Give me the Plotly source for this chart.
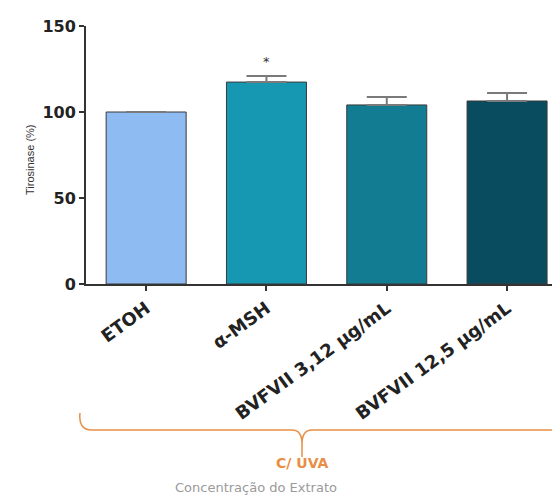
import plotly.graph_objects as go

categories = ["ETOH", "α-MSH", "BVFVII 3,12 μg/mL", "BVFVII 12,5 μg/mL"]
values = [100, 117.4, 104.1, 106.4]
errors = [0, 3.5, 4.6, 4.6]
colors = ["#8EBBF2", "#1697B2", "#127C93", "#0A4C5F"]
y_ticks = [0, 50, 100, 150]
significance = ["", "*", "", ""]

OFF = 8  # page body margin
W, H = 560 - OFF, 504 - OFF
L, T = 86 - OFF, 26 - OFF
BOT = 284 - OFF
B = H - BOT
pw, ph = W - L, BOT - T

def px(x):
    return (x - OFF - L) / pw

def py(y):
    return (BOT - (y - OFF)) / ph

fig = go.Figure()
fig.add_trace(go.Bar(
    x=list(range(len(categories))), y=values, width=0.665,
    marker=dict(color=colors, line=dict(color="#3a3a3a", width=1)),
    error_y=dict(type="data", symmetric=False, array=errors,
                 arrayminus=[0] * len(errors), color="#7a7a7a",
                 thickness=2, width=20),
    showlegend=False,
))

for i, s in enumerate(significance):
    if s:
        fig.add_annotation(x=i, y=values[i] + errors[i] + 3, text=s,
                           showarrow=False, yanchor="bottom",
                           font=dict(size=13, color="#333"))

orange = "#E88E45"
path = (f"M {px(80)},{py(413)} Q {px(78)},{py(430)} {px(92)},{py(430)} "
        f"L {px(292)},{py(430)} Q {px(302)},{py(430)} {px(302)},{py(444)} "
        f"L {px(302)},{py(457)} "
        f"M {px(302)},{py(444)} Q {px(302)},{py(430)} {px(312)},{py(430)} "
        f"L {px(560)},{py(430)}")
fig.add_shape(type="path", path=path, xref="paper", yref="paper",
              line=dict(color=orange, width=1.5))

fig.add_annotation(xref="paper", yref="paper", x=px(302), y=py(473),
                   text="C/ UVA", showarrow=False,
                   font=dict(size=14, color=orange, family="DejaVu Sans", weight="bold"))
fig.add_annotation(xref="paper", yref="paper", x=px(256), y=py(497),
                   text="Concentração do Extrato", showarrow=False,
                   font=dict(size=13, color="#9a9a9a", family="DejaVu Sans"))
fig.add_annotation(xref="paper", yref="paper", x=px(22), y=py(160),
                   text="Tirosinase (%)", showarrow=False, textangle=-90,
                   font=dict(size=11, color="#333", family="Liberation Sans"))

fig.update_layout(
    width=W, height=H,
    margin=dict(l=L, r=0, t=T, b=B, autoexpand=False),
    plot_bgcolor="white", paper_bgcolor="white",
    font=dict(family="DejaVu Sans", color="#222"),
)
fig.update_xaxes(
    range=[-0.5, 3.44], tickmode="array",
    tickvals=list(range(len(categories))), ticktext=categories,
    tickangle=-36, automargin=False,
    tickfont=dict(size=18, weight="bold", color="#222", family="DejaVu Sans"),
    showline=True, linecolor="#333", linewidth=2,
    ticks="outside", ticklen=5, tickwidth=2, tickcolor="#333",
    showgrid=False, zeroline=False,
)
fig.update_yaxes(
    range=[0, 150], tickvals=y_ticks, automargin=False,
    tickfont=dict(size=16, weight="bold", color="#222", family="DejaVu Sans"),
    showline=True, linecolor="#333", linewidth=2,
    ticks="outside", ticklen=5, tickwidth=2, tickcolor="#333",
    showgrid=False, zeroline=False,
)

fig.write_html("out.html")
